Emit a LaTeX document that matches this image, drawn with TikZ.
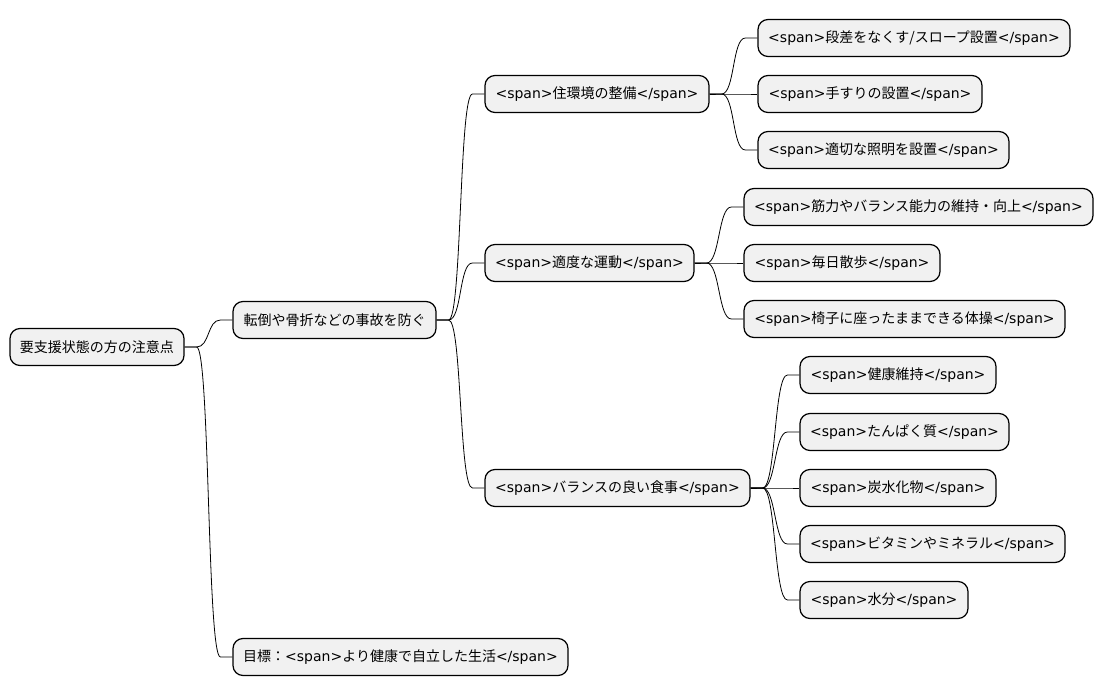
\documentclass[tikz,border=0pt]{standalone}
\usepackage{fontspec}
\setmainfont{DejaVu Sans}
\newfontfamily\J{Noto Sans CJK JP}
\tikzset{
  box/.style={draw=black, line width=0.9pt, fill=black!5.5, rounded corners=7.5pt,
    minimum height=27.75pt, inner sep=0pt, font=\fontsize{10.5pt}{12pt}\selectfont, anchor=center},
  conn/.style={draw=black, line width=0.6pt}
}
\newcommand\bx[5]{\node[box, minimum width={(#3-#2)*0.75pt}] (#1) at ({(#2+#3)/2},#4) {#5};}
\newcommand\cn[2]{\draw[conn] (#1.east) -- ++(9pt,0) to[out=0,in=180,distance=10pt] ([xshift=-9pt]#2.west) -- (#2.west);}
\begin{document}
\begin{tikzpicture}[x=0.75pt,y=-0.75pt]
\fill[white] (0,0) rectangle (1104,696);
\useasboundingbox (0,0) rectangle (1104,696);
\bx{root}{10}{184}{347}{{\J 要支援状態の方の注意点}}
\bx{a}{233}{436}{320}{{\J 転倒や骨折などの事故を防ぐ}}
\bx{goal}{233}{568}{657}{{\J 目標：}<span>{\J より健康で自立した生活}</span>}
\bx{a1}{485}{709}{94}{<span>{\J 住環境の整備}</span>}
\bx{a2}{485}{694}{263}{<span>{\J 適度な運動}</span>}
\bx{a3}{485}{750}{488}{<span>{\J バランスの良い食事}</span>}
\bx{a11}{758}{1070}{38}{<span>{\J 段差をなくす/スロープ設置}</span>}
\bx{a12}{758}{982}{94}{<span>{\J 手すりの設置}</span>}
\bx{a13}{758}{1009}{150}{<span>{\J 適切な照明を設置}</span>}
\bx{a21}{744}{1093}{207}{<span>{\J 筋力やバランス能力の維持・向上}</span>}
\bx{a22}{744}{940}{263}{<span>{\J 毎日散歩}</span>}
\bx{a23}{744}{1065}{319}{<span>{\J 椅子に座ったままできる体操}</span>}
\bx{a31}{800}{996}{375}{<span>{\J 健康維持}</span>}
\bx{a32}{800}{1009}{432}{<span>{\J たんぱく質}</span>}
\bx{a33}{800}{996}{488}{<span>{\J 炭水化物}</span>}
\bx{a34}{800}{1065}{544}{<span>{\J ビタミンやミネラル}</span>}
\bx{a35}{800}{968}{600}{<span>{\J 水分}</span>}
\cn{root}{a}
\cn{root}{goal}
\cn{a}{a1}
\cn{a}{a2}
\cn{a}{a3}
\cn{a1}{a11}
\cn{a1}{a12}
\cn{a1}{a13}
\cn{a2}{a21}
\cn{a2}{a22}
\cn{a2}{a23}
\cn{a3}{a31}
\cn{a3}{a32}
\cn{a3}{a33}
\cn{a3}{a34}
\cn{a3}{a35}
\end{tikzpicture}
\end{document}
